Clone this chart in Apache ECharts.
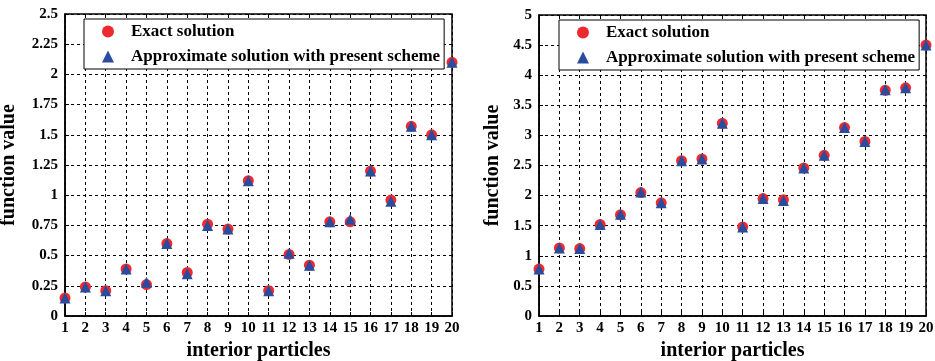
<!DOCTYPE html>
<html>
<head>
<meta charset="utf-8">
<script src="https://cdn.jsdelivr.net/npm/echarts@6/dist/echarts.min.js"></script>
<style>
  html, body { margin: 0; padding: 0; background: #fff; }
  #chart { width: 935px; height: 361px; }
</style>
</head>
<body>
<div id="chart"></div>
<script>
// interior particle index 1..20
const particles = [1, 2, 3, 4, 5, 6, 7, 8, 9, 10, 11, 12, 13, 14, 15, 16, 17, 18, 19, 20];

// left panel
const exactLeft  = [0.15, 0.24, 0.21, 0.39, 0.26, 0.60, 0.36, 0.76, 0.72, 1.12, 0.21, 0.51, 0.42, 0.78, 0.78, 1.20, 0.96, 1.57, 1.50, 2.10];
const approxLeft = [0.15, 0.24, 0.21, 0.39, 0.28, 0.60, 0.35, 0.75, 0.72, 1.12, 0.21, 0.52, 0.42, 0.78, 0.80, 1.20, 0.95, 1.57, 1.50, 2.10];

// right panel
const exactRight  = [0.78, 1.13, 1.12, 1.52, 1.68, 2.05, 1.88, 2.58, 2.61, 3.20, 1.48, 1.95, 1.93, 2.46, 2.67, 3.13, 2.90, 3.75, 3.79, 4.50];
const approxRight = [0.78, 1.13, 1.12, 1.52, 1.69, 2.06, 1.88, 2.58, 2.61, 3.20, 1.48, 1.95, 1.92, 2.46, 2.67, 3.13, 2.90, 3.76, 3.79, 4.50];

const EXACT = 'Exact solution';
const APPROX = 'Approximate solution with present scheme';

const FONT = '"Liberation Serif", "DejaVu Serif", serif';
const RED = '#ee2a2e';
const BLUE = '#2a4c9e';

const pairs = (ys) => particles.map((x, i) => [x, ys[i]]);

const gridLine = { show: true, lineStyle: { color: '#000', width: 1, type: [3, 3] } };
const tickLabel = { fontFamily: FONT, fontWeight: 'bold', fontSize: 15, color: '#000' };

function xAxisFor(gridIndex) {
  return {
    type: 'value', gridIndex, min: 1, max: 20, interval: 1,
    name: 'interior particles', nameLocation: 'middle', nameGap: 25,
    nameTextStyle: { fontFamily: FONT, fontWeight: 'bold', fontSize: 20, color: '#000' },
    axisLine: { show: true, lineStyle: { color: '#000', width: 1.5 } },
    axisTick: { show: true, inside: true, length: 4, lineStyle: { color: '#000' } },
    axisLabel: Object.assign({ margin: 5 }, tickLabel),
    splitLine: gridLine
  };
}

function topAxisFor(gridIndex) {
  return {
    type: 'value', gridIndex, min: 1, max: 20, interval: 1, position: 'top',
    axisLine: { show: false },
    axisTick: { show: true, inside: true, length: 4, lineStyle: { color: '#000' } },
    axisLabel: { show: false },
    splitLine: { show: false }
  };
}

function yAxisFor(gridIndex, max, interval, gap) {
  return {
    type: 'value', gridIndex, min: 0, max, interval,
    name: 'function value', nameLocation: 'middle', nameGap: gap,
    nameTextStyle: { fontFamily: FONT, fontWeight: 'bold', fontSize: 20, color: '#000' },
    axisLine: { show: true, lineStyle: { color: '#000', width: 1.5 } },
    axisTick: { show: true, inside: true, length: 4, lineStyle: { color: '#000' } },
    axisLabel: Object.assign({ margin: 7 }, tickLabel),
    splitLine: gridLine
  };
}

function legendAt(left, top) {
  return {
    left, top, orient: 'vertical',
    data: [EXACT, APPROX],
    itemWidth: 12, itemHeight: 12, itemGap: 8,
    padding: [4, 4, 4, 18],
    backgroundColor: '#fff', borderColor: '#000', borderWidth: 1,
    selectedMode: false,
    textStyle: { fontFamily: FONT, fontWeight: 'bold', fontSize: 17, color: '#000', padding: [0, 0, 0, 12] }
  };
}

function scatter(name, data, idx, symbol, color, z) {
  return {
    name, type: 'scatter', xAxisIndex: idx, yAxisIndex: idx,
    data, symbol, symbolSize: 11,
    itemStyle: { color, opacity: 1 }, z
  };
}

const chart = echarts.init(document.getElementById('chart'));
chart.setOption({
  animation: false,
  backgroundColor: '#fff',
  grid: [
    { left: 65, top: 14, width: 387, height: 302, outerBoundsMode: 'none', containLabel: false,
      show: true, borderColor: '#000', borderWidth: 1.5, backgroundColor: 'transparent' },
    { left: 539, top: 15, width: 387, height: 301, outerBoundsMode: 'none', containLabel: false,
      show: true, borderColor: '#000', borderWidth: 1.5, backgroundColor: 'transparent' }
  ],
  xAxis: [xAxisFor(0), xAxisFor(1), topAxisFor(0), topAxisFor(1)],
  yAxis: [yAxisFor(0, 2.5, 0.25, 46), yAxisFor(1, 5, 0.5, 36)],
  legend: [legendAt(84, 19), legendAt(559, 20)],
  series: [
    scatter(EXACT, pairs(exactLeft), 0, 'circle', RED, 2),
    scatter(APPROX, pairs(approxLeft), 0, 'triangle', BLUE, 3),
    scatter(EXACT, pairs(exactRight), 1, 'circle', RED, 2),
    scatter(APPROX, pairs(approxRight), 1, 'triangle', BLUE, 3)
  ]
});
</script>
</body>
</html>
